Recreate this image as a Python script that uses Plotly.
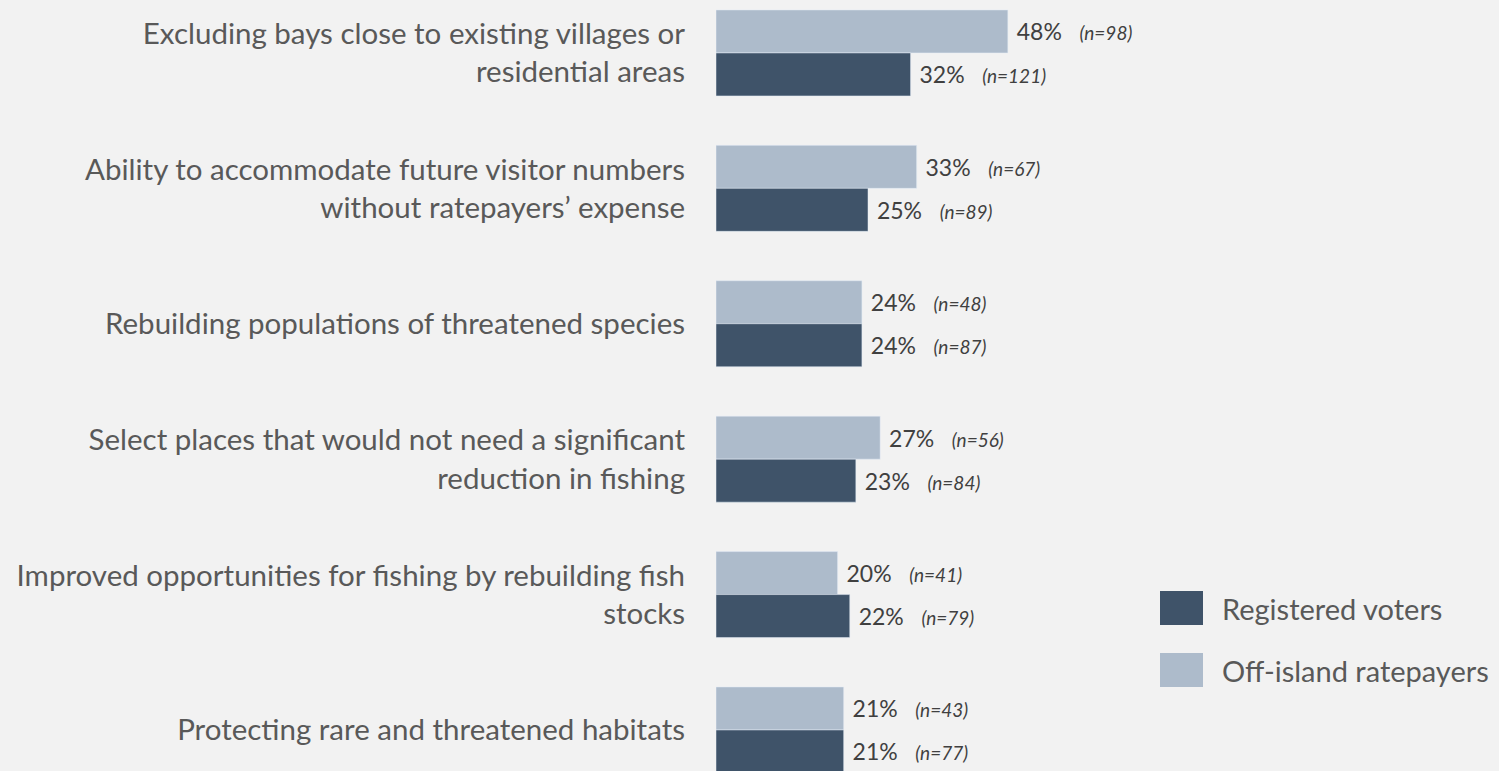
import plotly.graph_objects as go

# Survey results: share of respondents ranking each consideration as important
categories = [
    "Excluding bays close to existing villages or<br>residential areas",
    "Ability to accommodate future visitor numbers<br>without ratepayers\u2019 expense",
    "Rebuilding populations of threatened species",
    "Select places that would not need a significant<br>reduction in fishing",
    "Improved opportunities for fishing by rebuilding fish<br>stocks",
    "Protecting rare and threatened habitats",
]
offisland_pct = [48, 33, 24, 27, 20, 21]
offisland_n = [98, 67, 48, 56, 41, 43]
registered_pct = [32, 25, 24, 23, 22, 21]
registered_n = [121, 89, 87, 84, 79, 77]

LIGHT = "#adbbcb"
DARK = "#3f5369"
BG = "#f2f2f2"
FONT = "Lato"

W, H = 1499, 771
LEFT = 716


def bar_labels(pcts, ns):
    return [
        f" {p}%   <span style='font-size:19px'><i>(n={n})</i></span>"
        for p, n in zip(pcts, ns)
    ]


fig = go.Figure()
fig.add_trace(go.Bar(
    y=categories, x=offisland_pct, orientation="h",
    name="Off-island ratepayers", marker_color=LIGHT,
    text=bar_labels(offisland_pct, offisland_n), textposition="outside",
    constraintext="none", cliponaxis=False,
    outsidetextfont=dict(family=FONT, size=23, color="#404040"),
    showlegend=False,
))
fig.add_trace(go.Bar(
    y=categories, x=registered_pct, orientation="h",
    name="Registered voters", marker_color=DARK,
    text=bar_labels(registered_pct, registered_n), textposition="outside",
    constraintext="none", cliponaxis=False,
    outsidetextfont=dict(family=FONT, size=23, color="#404040"),
    showlegend=False,
))

# Legend drawn as swatches + labels in paper coordinates
def px_x(px):
    return (px - LEFT) / (W - LEFT)


def px_y(py):
    return 1 - py / H


legend_items = [("Registered voters", DARK, 591, 625), ("Off-island ratepayers", LIGHT, 653, 687)]
for label, color, y0, y1 in legend_items:
    fig.add_shape(type="rect", xref="paper", yref="paper",
                  x0=px_x(1160), x1=px_x(1203), y0=px_y(y1), y1=px_y(y0),
                  fillcolor=color, line_width=0)
    fig.add_annotation(xref="paper", yref="paper", x=px_x(1220), y=px_y((y0 + y1) / 2),
                       text=label, showarrow=False, xanchor="left", yanchor="middle",
                       font=dict(family=FONT, size=29, color="#595959"))

fig.update_layout(
    width=W, height=H,
    margin=dict(l=LEFT, r=0, t=0, b=0),
    paper_bgcolor=BG, plot_bgcolor=BG,
    barmode="group", bargap=0.365, bargroupgap=0,
    xaxis=dict(range=[0, (W - LEFT) / 6.08], visible=False, fixedrange=True),
    yaxis=dict(
        type="category", categoryorder="array", categoryarray=categories,
        range=[5.303, -0.391], showgrid=False, zeroline=False, showline=False,
        ticks="", ticklabelstandoff=30,
        tickfont=dict(family=FONT, size=29.5, color="#595959"),
    ),
    font=dict(family=FONT),
)

fig.write_html("out.html")
